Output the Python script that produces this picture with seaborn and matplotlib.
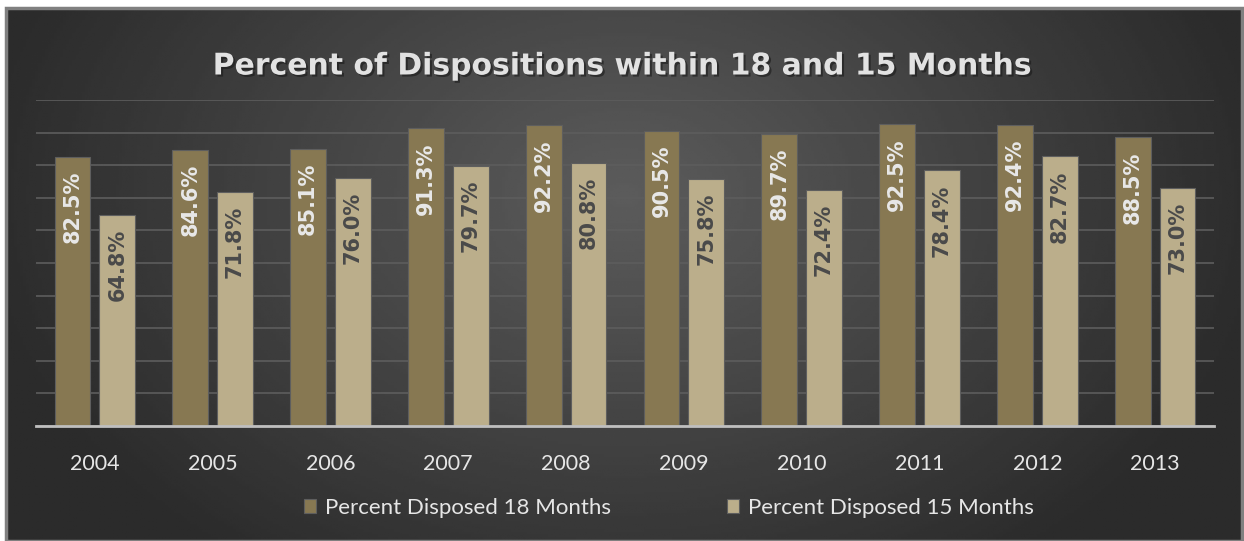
import numpy as np
import pandas as pd
import matplotlib
matplotlib.use("Agg")
import matplotlib.pyplot as plt
import matplotlib.patheffects as pe
from matplotlib.patches import Rectangle
import seaborn as sns

years = ["2004", "2005", "2006", "2007", "2008", "2009", "2010", "2011", "2012", "2013"]
disposed_18 = [82.5, 84.6, 85.1, 91.3, 92.2, 90.5, 89.7, 92.5, 92.4, 88.5]
disposed_15 = [64.8, 71.8, 76.0, 79.7, 80.8, 75.8, 72.4, 78.4, 82.7, 73.0]
series = ["Percent Disposed 18 Months", "Percent Disposed 15 Months"]

df = pd.DataFrame({
    "year": years * 2,
    "value": disposed_18 + disposed_15,
    "series": [series[0]] * len(years) + [series[1]] * len(years),
})

dark = "#877852"
light = "#BBAE8B"

sns.set_style("dark")
plt.rcParams["font.family"] = ["Lato", "DejaVu Sans"]

fig = plt.figure(figsize=(12.44, 5.41), dpi=100)
fig.patch.set_facecolor("white")

# background panel with radial gradient
bg = fig.add_axes([6 / 1244, 0, 1236 / 1244, 533 / 541], zorder=-1)
gx, gy = np.meshgrid(np.linspace(0, 1, 400), np.linspace(0, 1, 200))
r = np.sqrt(((gx - 0.5) / 0.55) ** 2 + ((gy - 0.35) / 0.9) ** 2)
shade = np.clip(0.36 - 0.2 * r, 0.17, 0.36)
bg.imshow(shade, cmap="gray", vmin=0, vmax=1, extent=[0, 1, 0, 1], aspect="auto", origin="upper")
bg.set_xlim(0, 1)
bg.set_ylim(0, 1)
bg.axis("off")
bg.add_patch(Rectangle((0, 0), 1, 1, transform=bg.transAxes, fill=False,
                       edgecolor="#808080", linewidth=2.5, clip_on=False))

ax = fig.add_axes([36 / 1244, 115 / 541, 1178 / 1244, 326 / 541])
ax.set_facecolor("none")

sns.barplot(data=df, x="year", y="value", hue="series", palette=[dark, light],
            width=0.76, gap=0.2, saturation=1, edgecolor="#5e5e5e", linewidth=0.8,
            ax=ax, zorder=3)

ax.set_ylim(0, 100)
ax.set_xlim(-0.5, len(years) - 0.5)
ax.set_yticks(np.arange(0, 101, 10))
ax.yaxis.grid(True, color="#5d5d5d", linewidth=1.2, zorder=0)
ax.xaxis.grid(False)
ax.set_yticklabels([])
ax.tick_params(axis="y", length=0)
ax.tick_params(axis="x", length=0, labelsize=15.5, colors="#e6e6e6", pad=20)
ax.set_xlabel("")
ax.set_ylabel("")
for s in ["top", "right", "left"]:
    ax.spines[s].set_visible(False)
ax.spines["bottom"].set_color("#bfbfbf")
ax.spines["bottom"].set_linewidth(2)
ax.spines["bottom"].set_zorder(4)

# value labels inside bars
label_colors = ["#e8e8e8", "#4a4a4a"]
for cont, col in zip(ax.containers, label_colors):
    for bar in cont:
        h = bar.get_height()
        ax.annotate(f"{h:.1f}%", (bar.get_x() + bar.get_width() / 2, h),
                    xytext=(0, -10), textcoords="offset points",
                    ha="center", va="top", rotation=90, color=col,
                    fontsize=15, fontweight="bold", zorder=5,
                    family=["DejaVu Sans"])

leg = ax.legend(loc="center", bbox_to_anchor=(669 / 1244, 33 / 541),
                bbox_transform=fig.transFigure, ncol=2, frameon=False,
                fontsize=16, handlelength=0.55, handleheight=0.55,
                handletextpad=0.4, columnspacing=5.2)
for t in leg.get_texts():
    t.set_color("#e6e6e6")

fig.text(0.5, 1 - 66 / 541, "Percent of Dispositions within 18 and 15 Months",
         ha="center", va="center", fontsize=21.5, fontweight="bold",
         color="#e2e2e2", family=["DejaVu Sans"],
         path_effects=[pe.withSimplePatchShadow(offset=(1.5, -1.5), shadow_rgbFace="#1a1a1a", alpha=0.6)])

fig.savefig("out.png", dpi=100)
